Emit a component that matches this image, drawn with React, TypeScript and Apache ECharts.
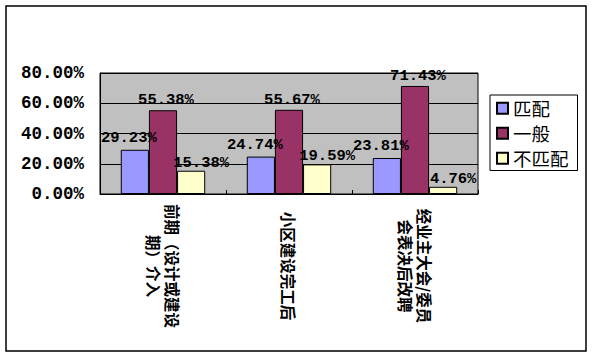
import React, { useEffect, useRef } from "react";
import * as echarts from "echarts";

const categories = ["前期（设计或建设\n期）介入", "小区建设完工后", "经业主大会/委员\n会表决后改聘"];
const seriesNames = ["匹配", "一般", "不匹配"];
const matchValues = [29.23, 24.74, 23.81];
const normalValues = [55.38, 55.67, 71.43];
const mismatchValues = [15.38, 19.59, 4.76];
const yTicks = [0, 20, 40, 60, 80];

const colors = ["#9999FF", "#993366", "#FFFFCC"];
const labelOffsets = [[-6, -4], [3, -2], [10, 0]];

export default function App() {
  const ref = useRef<HTMLDivElement>(null);
  useEffect(() => {
    if (!ref.current) return;
    const chart = echarts.init(ref.current, null, { renderer: "svg" });
    const values = [matchValues, normalValues, mismatchValues];
    chart.setOption({
      animation: false,
      backgroundColor: "#ffffff",
      graphic: [
        {
          type: "rect",
          shape: { x: 6, y: 6, width: 580, height: 345 },
          style: { fill: "none", stroke: "#000", lineWidth: 1.5 },
          z: 0,
        },
      ],
      grid: {
        left: 100,
        top: 73,
        width: 378,
        height: 121,
        show: true,
        backgroundColor: "#C0C0C0",
        borderColor: "#000",
        borderWidth: 1,
      },
      legend: {
        orient: "vertical",
        left: 490,
        top: 95,
        data: seriesNames,
        backgroundColor: "#fff",
        borderColor: "#000",
        borderWidth: 1,
        padding: [4, 9, 3, 6],
        itemWidth: 11,
        itemHeight: 11,
        itemGap: 6.5,
        itemTextGap: 6,
        icon: "rect",
        textStyle: {
          fontFamily: "Noto Sans CJK SC",
          fontSize: 18.5,
          color: "#000",
          lineHeight: 18,
        },
      },
      xAxis: {
        type: "category",
        data: categories,
        axisLine: { show: true, lineStyle: { color: "#000", width: 1 } },
        axisTick: { show: true, inside: true, length: 4, lineStyle: { color: "#000" } },
        axisLabel: {
          interval: 0,
          rotate: -90,
          align: "center",
          verticalAlign: "middle",
          margin: 72,
          fontFamily: "Noto Sans CJK SC",
          fontWeight: "bold",
          fontSize: 15.5,
          lineHeight: 19,
          color: "#000",
        },
      },
      yAxis: {
        type: "value",
        min: yTicks[0],
        max: yTicks[yTicks.length - 1],
        interval: yTicks[1] - yTicks[0],
        axisLine: { show: true, lineStyle: { color: "#000" } },
        axisTick: { show: false },
        splitLine: { show: true, lineStyle: { color: "#000", width: 1 } },
        axisLabel: {
          margin: 16,
          formatter: (v: number) => v.toFixed(2) + "%",
          fontFamily: "Liberation Mono",
          fontWeight: "bold",
          fontSize: 17.5,
          color: "#000",
        },
      },
      series: seriesNames.map((name, i) => ({
        name,
        type: "bar",
        data: values[i],
        barGap: "0%",
        barCategoryGap: "33%",
        itemStyle: { color: colors[i], borderColor: "#000", borderWidth: 1 },
        label: {
          show: true,
          position: "top",
          distance: 0,
          offset: labelOffsets[i],
          formatter: (p: any) => p.value.toFixed(2) + "%",
          fontFamily: "Liberation Mono",
          fontWeight: "bold",
          fontSize: 15.5,
          color: "#000",
        },
      })),
    });
    return () => chart.dispose();
  }, []);
  return (
    <div
      ref={ref}
      style={{ position: "fixed", left: 0, top: 0, width: 593, height: 358 }}
    />
  );
}
